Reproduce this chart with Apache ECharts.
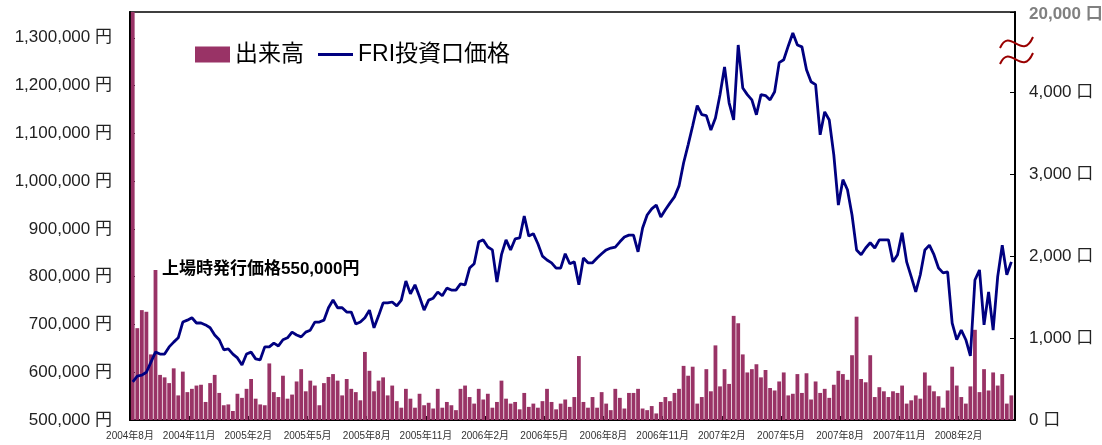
<!DOCTYPE html>
<html>
<head>
<meta charset="utf-8">
<script src="https://cdn.jsdelivr.net/npm/echarts@6/dist/echarts.min.js"></script>
<style>
  html, body { margin: 0; padding: 0; background: #fff; }
  #chart { width: 1102px; height: 445px; }
</style>
</head>
<body>
<div id="chart"></div>
<script>
// 週次データ（2004年8月上場～2008年4月）
var xLabels = ['2004年8月', '2004年11月', '2005年2月', '2005年5月', '2005年8月', '2005年11月',
  '2006年2月', '2006年5月', '2006年8月', '2006年11月', '2007年2月', '2007年5月',
  '2007年8月', '2007年11月', '2008年2月'];

// 投資口価格（千円）
var priceK = [
  580, 592, 594, 600, 621, 642, 638, 638, 653, 663,
  672, 705, 709, 714, 703, 703, 699, 693, 678, 668,
  647, 649, 638, 630, 615, 638, 642, 628, 626, 653,
  653, 661, 655, 668, 672, 684, 678, 674, 684, 688,
  705, 705, 709, 735, 751, 735, 735, 726, 726, 701,
  705, 714, 730, 693, 718, 745, 745, 747, 739, 751,
  791, 764, 783, 758, 730, 751, 755, 768, 760, 776,
  772, 772, 785, 783, 818, 827, 873, 877, 862, 856,
  789, 846, 877, 856, 879, 881, 927, 885, 890, 869,
  843, 835, 829, 818, 818, 848, 827, 831, 783, 839,
  829, 829, 839, 848, 856, 860, 862, 873, 883, 887,
  887, 852, 902, 929, 942, 950, 925, 940, 954, 967,
  990, 1038, 1076, 1116, 1158, 1139, 1137, 1107, 1132, 1181,
  1239, 1164, 1128, 1285, 1195, 1181, 1170, 1139, 1181, 1179,
  1170, 1187, 1248, 1254, 1283, 1310, 1285, 1281, 1233, 1208,
  1202, 1097, 1145, 1128, 1055, 950, 1003, 982, 929, 856,
  846, 860, 871, 860, 877, 877, 877, 831, 846, 892,
  831, 800, 768, 804, 856, 866, 846, 818, 808, 810,
  703, 668, 688, 668, 634, 793, 814, 699, 768, 688,
  800, 866, 804, 831
];

// 出来高（口）
var volume = [
  19500, 1120, 1340, 1320, 800, 1830, 550, 520, 450, 630,
  300, 590, 340, 380, 420, 430, 220, 450, 550, 330,
  180, 190, 110, 320, 270, 380, 500, 260, 190, 180,
  690, 340, 280, 540, 260, 310, 470, 620, 350, 480,
  420, 180, 450, 525, 560, 480, 300, 500, 380, 340,
  240, 830, 600, 350, 480, 520, 300, 420, 230, 150,
  380, 260, 150, 320, 180, 210, 140, 380, 150, 220,
  180, 120, 380, 420, 280, 200, 380, 250, 320, 150,
  220, 480, 260, 200, 220, 130, 330, 160, 200, 150,
  230, 380, 220, 130, 200, 250, 160, 280, 780, 220,
  150, 280, 150, 340, 200, 120, 380, 270, 140, 330,
  330, 380, 140, 120, 170, 80, 220, 280, 230, 330,
  380, 660, 540, 650, 200, 280, 620, 350, 910, 410,
  620, 440, 1270, 1180, 800, 580, 620, 680, 520, 610,
  390, 360, 470, 580, 300, 320, 560, 330, 570, 250,
  470, 330, 380, 270, 430, 600, 560, 490, 790, 1260,
  500, 460, 790, 280, 400, 350, 280, 350, 330, 420,
  200, 240, 300, 260, 580, 420, 350, 290, 150, 360,
  650, 420, 280, 200, 410, 1100, 340, 620, 360, 580,
  420, 560, 200, 300
];

var font = "'Liberation Sans', 'Noto Sans CJK JP', sans-serif";

function comma(n) {
  return String(n).replace(/\B(?=(\d{3})+(?!\d))/g, ',');
}

var chart = echarts.init(document.getElementById('chart'));

var option = {
  backgroundColor: '#fff',
  animation: false,
  textStyle: { fontFamily: font },
  grid: {
    left: 130, right: 87, top: 12, bottom: 25,
    show: true, borderColor: '#000', borderWidth: 1.5,
    outerBoundsMode: 'none'
  },
  legend: {
    left: 195, top: 43, padding: 0,
    itemWidth: 35, itemHeight: 16, itemGap: 14,
    textStyle: { fontSize: 23, color: '#000', fontFamily: font },
    data: [
      { name: '出来高', icon: 'rect' },
      { name: 'FRI投資口価格', icon: 'path://M0,0L35,0L35,2.8L0,2.8Z' }
    ]
  },
  xAxis: {
    type: 'value',
    min: 0, max: 194.4, interval: 13,
    axisLine: { lineStyle: { color: '#000', width: 2 } },
    axisTick: { inside: true, length: 4, lineStyle: { color: '#000' } },
    splitLine: { show: false },
    axisLabel: {
      fontSize: 10, color: '#333', margin: 11, showMaxLabel: false,
      formatter: function (v) { return xLabels[Math.round(v / 13)] || ''; }
    }
  },
  yAxis: [{
    type: 'value',
    min: 500000, max: 1354000, interval: 100000,
    axisLine: { show: true, lineStyle: { color: '#000', width: 2 } },
    axisTick: { show: true, inside: true, length: 5, lineStyle: { color: '#000' } },
    splitLine: { show: false },
    axisLabel: {
      fontSize: 17, color: '#222', margin: 18, showMaxLabel: false,
      formatter: function (v) { return v % 100000 ? '' : comma(v) + ' 円'; }
    }
  }, {
    type: 'value',
    min: 0, max: 4976, interval: 1000,
    axisLine: { show: true, lineStyle: { color: '#000', width: 2 } },
    axisTick: { show: true, inside: true, length: 5, lineStyle: { color: '#000' } },
    splitLine: { show: false },
    axisLabel: {
      fontSize: 17, color: '#222', margin: 14,
      formatter: function (v) {
        if (v > 4500) return '{g|20,000 口}';
        return comma(v) + ' 口';
      },
      rich: { g: { fontSize: 17, color: '#808080', fontWeight: 'bold', fontFamily: font, padding: [5, 0, 0, 0] } }
    }
  }],
  series: [{
    name: '出来高',
    type: 'bar',
    yAxisIndex: 1,
    barWidth: 3.8,
    itemStyle: { color: '#993366' },
    data: volume.map(function (v, i) { return [i + 0.6, v]; }),
    z: 1
  }, {
    name: 'FRI投資口価格',
    type: 'line',
    yAxisIndex: 0,
    symbol: 'none',
    showSymbol: false,
    lineStyle: { color: '#000080', width: 2.8 },
    itemStyle: { color: '#000080' },
    data: priceK.map(function (v, i) { return [i + 0.6, v * 1000]; }),
    z: 3
  }],
  graphic: [{
    type: 'text',
    left: 162, top: 261,
    style: { text: '上場時発行価格550,000円', font: 'bold 17px ' + font, fill: '#000' },
    z: 10
  }, {
    type: 'bezierCurve',
    shape: { x1: 1000, y1: 48, cpx1: 1010, cpy1: 26, cpx2: 1022, cpy2: 62, x2: 1033, y2: 37 },
    style: { stroke: '#990000', lineWidth: 2, fill: null },
    z: 10
  }, {
    type: 'bezierCurve',
    shape: { x1: 1000, y1: 64, cpx1: 1010, cpy1: 42, cpx2: 1022, cpy2: 78, x2: 1033, y2: 53 },
    style: { stroke: '#990000', lineWidth: 2, fill: null },
    z: 10
  }]
};

chart.setOption(option);
</script>
</body>
</html>
